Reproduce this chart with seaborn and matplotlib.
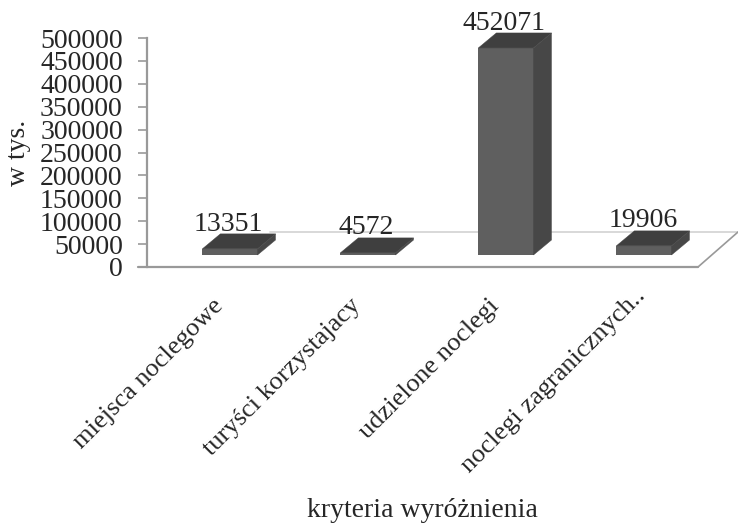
import numpy as np
import pandas as pd
import matplotlib.pyplot as plt
import seaborn as sns
from matplotlib.patches import Polygon
from matplotlib.lines import Line2D
from matplotlib.transforms import ScaledTranslation

categories = ['miejsca noclegowe', 'turyści korzystajacy', 'udzielone noclegi', 'noclegi zagranicznych..']
values = [13351, 4572, 452071, 19906]
y_ticks = [0, 50000, 100000, 150000, 200000, 250000, 300000, 350000, 400000, 450000, 500000]

sns.set_theme(style='white')
plt.rcParams['font.family'] = ['Liberation Serif', 'DejaVu Sans']
text_c = '#262626'
axis_c = '#999999'

W, H = 738, 524
fig = plt.figure(figsize=(W / 100, H / 100), dpi=100)
# axes box in pixels: y axis at x=147, value 0 at y=267, value 500000 at y=38
ax = fig.add_axes([147 / W, 1 - 267 / H, (698 - 147) / W, (267 - 38) / H])

df = pd.DataFrame({'kryterium': categories, 'wartosc': values})
lift = 12 * 500000 / 229  # bars stand on the floor, a bit behind the front edge
sns.barplot(data=df, x='kryterium', y='wartosc', width=0.4, color='#5f5f5f',
            saturation=1, bottom=lift, linewidth=0, ax=ax, zorder=3)
ax.set_xlim(-0.601, 3.392)
ax.set_ylim(0, 500000)

# depth offset of the fake 3d, in pixels
dx, dy = 18, 15
inv = ax.transData.inverted()
to_back = lambda x, y: inv.transform(ax.transData.transform((x, y)) + np.array([dx, dy]))

bars = list(ax.patches[:4])
for bar in bars:
    x0, x1 = bar.get_x(), bar.get_x() + bar.get_width()
    y0, y1 = bar.get_y(), bar.get_y() + bar.get_height()
    top_l, top_r, bot_r = to_back(x0, y1), to_back(x1, y1), to_back(x1, y0)
    ax.add_patch(Polygon([(x0, y1), (x1, y1), top_r, top_l], fc='#3f3f3f', ec='#3f3f3f', lw=0.3, zorder=4, clip_on=False))
    ax.add_patch(Polygon([(x1, y0), (x1, y1), top_r, bot_r], fc='#474747', ec='#474747', lw=0.3, zorder=4, clip_on=False))

# floor: front edge, slanted right edge and the back line
fig.add_artist(Line2D([138 / W, 698 / W], [1 - 267 / H, 1 - 267 / H], color=axis_c, lw=1.6))
fig.add_artist(Line2D([698 / W, 738 / W], [1 - 267 / H, 1 - 232 / H], color=axis_c, lw=1.2))
fig.add_artist(Line2D([270 / W, 738 / W], [1 - 232 / H, 1 - 232 / H], color='#d2d2d2', lw=1.2, zorder=0))

label_dx = [-2, -2, -2, -1]
label_dy = [12, 13, 12, 13]
for bar, v, ox, oy in zip(bars, values, label_dx, label_dy):
    xc = bar.get_x() + bar.get_width() / 2
    ytop = bar.get_y() + bar.get_height()
    ax.annotate(str(v), (xc, ytop), xytext=(ox, oy), textcoords='offset pixels',
                ha='center', va='bottom', fontsize=20, color=text_c, zorder=6, annotation_clip=False)

ax.set_yticks(y_ticks)
ax.set_yticklabels([str(t) for t in y_ticks], fontsize=20, color=text_c)
ax.tick_params(axis='y', length=6.5, width=1.2, color=axis_c, pad=11, left=True)
ax.set_xticks(range(4))
ax.set_xticklabels(categories, rotation=45, ha='right', rotation_mode='anchor', fontsize=19, color=text_c)
ax.tick_params(axis='x', length=0, pad=20)
# the last label sits a bit higher and further right than the others
shift_x = [-0.18, -0.18, -0.18, -0.10]
shift_y = [0, 0, 0, 0.10]
for lab, sx, sy in zip(ax.get_xticklabels(), shift_x, shift_y):
    lab.set_transform(lab.get_transform() + ScaledTranslation(sx, sy, fig.dpi_scale_trans))
ax.set_xlabel('kryteria wyróżnienia', fontsize=20, color=text_c)
ax.xaxis.set_label_coords(0.5, -1.01)
ax.set_ylabel('w tys.', fontsize=20, color=text_c)
ax.yaxis.set_label_coords(-0.211, 0.5)

sns.despine(ax=ax, bottom=True)
ax.spines['left'].set_color(axis_c)
ax.spines['left'].set_linewidth(1.6)
ax.patch.set_alpha(0)

fig.savefig('out.png', dpi=100)
